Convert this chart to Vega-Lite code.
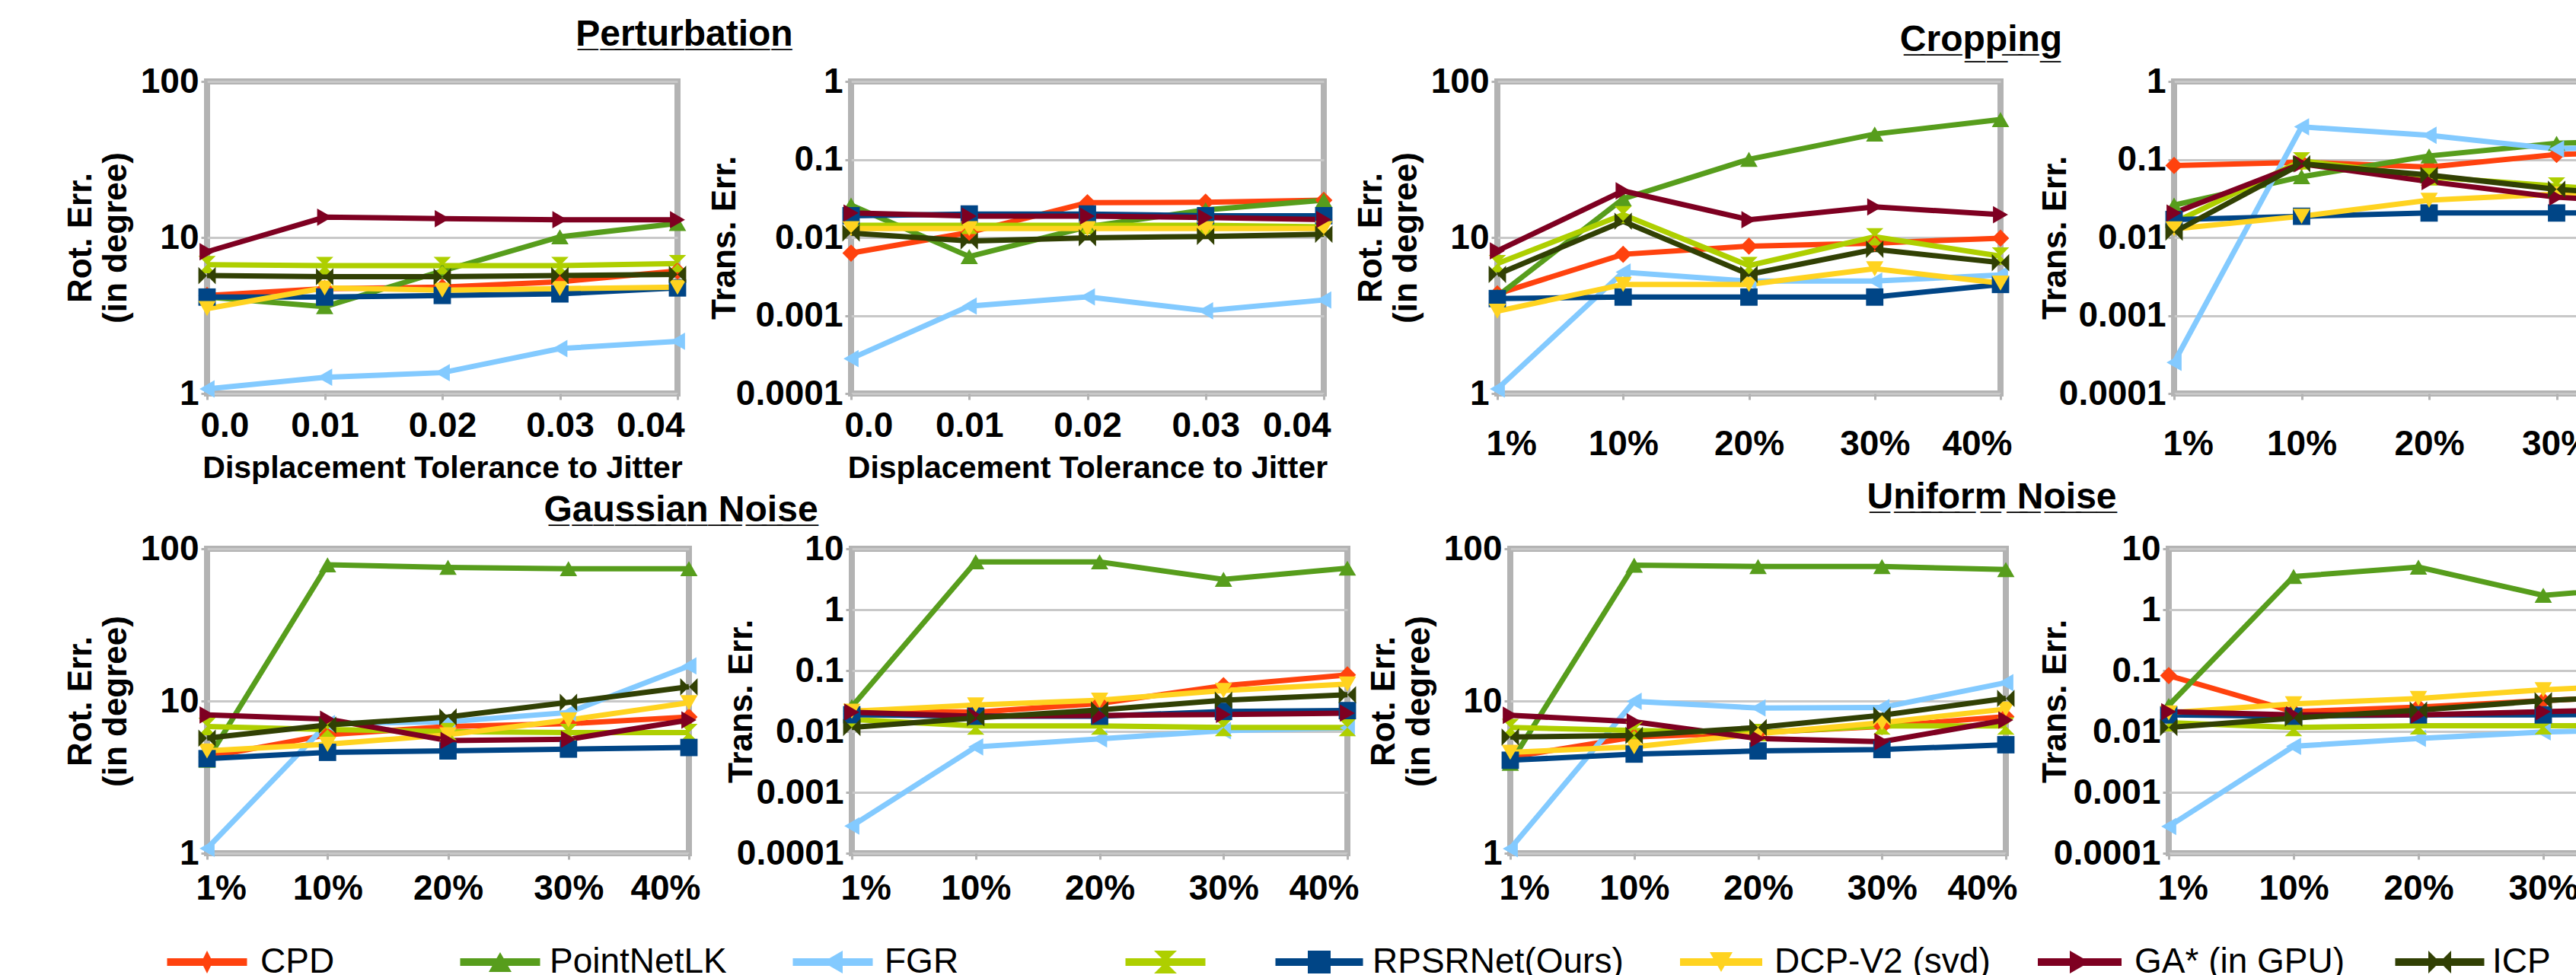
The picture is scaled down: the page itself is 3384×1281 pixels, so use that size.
{
  "$schema": "https://vega.github.io/schema/vega-lite/v6.json",
  "background": "white",
  "padding": {"left": 80, "top": 18, "right": 5, "bottom": 0},
  "config": {
    "view": {"stroke": "#b3b3b3", "strokeWidth": 8, "fill": "white"},
    "axis": {"labelFont": "Liberation Sans", "labelFontWeight": "bold", "labelFontSize": 46, "labelColor": "#000000", "titleFont": "Liberation Sans", "titleFontWeight": "bold", "titleFontSize": 44, "titleColor": "#000000", "tickColor": "#b3b3b3", "tickWidth": 3, "tickSize": 8, "domain": false, "labelOverlap": false, "labelFlush": false},
    "axisX": {"grid": false, "labelAngle": 0, "labelFlush": true, "labelFlushOffset": 15},
    "axisY": {"grid": true, "gridColor": "#c8c8c8", "gridWidth": 3, "labelPadding": 3},
    "title": {"font": "Liberation Sans", "fontWeight": "bold", "fontSize": 48, "color": "#000000", "anchor": "middle", "frame": "group"},
    "line": {"strokeWidth": 7},
    "point": {"filled": true, "size": 520, "opacity": 1}
  },
  "resolve": {"scale": {"shape": "independent"}},
  "datasets": {
    "pert": [
      {"method": "CPD", "level": "0.0", "rot": 4.25, "trans": 0.0063},
      {"method": "CPD", "level": "0.01", "rot": 4.7, "trans": 0.0116},
      {"method": "CPD", "level": "0.02", "rot": 4.8, "trans": 0.0279},
      {"method": "CPD", "level": "0.03", "rot": 5.2, "trans": 0.0283},
      {"method": "CPD", "level": "0.04", "rot": 6.1, "trans": 0.030},
      {"method": "PointNetLK", "level": "0.0", "rot": 4.15, "trans": 0.026},
      {"method": "PointNetLK", "level": "0.01", "rot": 3.6, "trans": 0.0057},
      {"method": "PointNetLK", "level": "0.02", "rot": 6.1, "trans": 0.0137},
      {"method": "PointNetLK", "level": "0.03", "rot": 10.1, "trans": 0.0226},
      {"method": "PointNetLK", "level": "0.04", "rot": 12.3, "trans": 0.030},
      {"method": "FGR", "level": "0.0", "rot": 1.07, "trans": 0.00028},
      {"method": "FGR", "level": "0.01", "rot": 1.27, "trans": 0.00132},
      {"method": "FGR", "level": "0.02", "rot": 1.36, "trans": 0.00173},
      {"method": "FGR", "level": "0.03", "rot": 1.94, "trans": 0.00115},
      {"method": "FGR", "level": "0.04", "rot": 2.16, "trans": 0.00158},
      {"method": "Unlabelled", "level": "0.0", "rot": 6.7, "trans": 0.0143},
      {"method": "Unlabelled", "level": "0.01", "rot": 6.6, "trans": 0.0143},
      {"method": "Unlabelled", "level": "0.02", "rot": 6.6, "trans": 0.0143},
      {"method": "Unlabelled", "level": "0.03", "rot": 6.6, "trans": 0.0143},
      {"method": "Unlabelled", "level": "0.04", "rot": 6.8, "trans": 0.0137},
      {"method": "RPSRNet(Ours)", "level": "0.0", "rot": 4.15, "trans": 0.019},
      {"method": "RPSRNet(Ours)", "level": "0.01", "rot": 4.15, "trans": 0.020},
      {"method": "RPSRNet(Ours)", "level": "0.02", "rot": 4.25, "trans": 0.020},
      {"method": "RPSRNet(Ours)", "level": "0.03", "rot": 4.35, "trans": 0.019},
      {"method": "RPSRNet(Ours)", "level": "0.04", "rot": 4.75, "trans": 0.019},
      {"method": "DCP-V2 (svd)", "level": "0.0", "rot": 3.5, "trans": 0.013},
      {"method": "DCP-V2 (svd)", "level": "0.01", "rot": 4.75, "trans": 0.013},
      {"method": "DCP-V2 (svd)", "level": "0.02", "rot": 4.6, "trans": 0.013},
      {"method": "DCP-V2 (svd)", "level": "0.03", "rot": 4.7, "trans": 0.013},
      {"method": "DCP-V2 (svd)", "level": "0.04", "rot": 4.8, "trans": 0.013},
      {"method": "GA* (in GPU)", "level": "0.0", "rot": 8.1, "trans": 0.0206},
      {"method": "GA* (in GPU)", "level": "0.01", "rot": 13.5, "trans": 0.0188},
      {"method": "GA* (in GPU)", "level": "0.02", "rot": 13.2, "trans": 0.0188},
      {"method": "GA* (in GPU)", "level": "0.03", "rot": 13.0, "trans": 0.018},
      {"method": "GA* (in GPU)", "level": "0.04", "rot": 13.0, "trans": 0.017},
      {"method": "ICP", "level": "0.0", "rot": 5.7, "trans": 0.0114},
      {"method": "ICP", "level": "0.01", "rot": 5.6, "trans": 0.009},
      {"method": "ICP", "level": "0.02", "rot": 5.6, "trans": 0.0099},
      {"method": "ICP", "level": "0.03", "rot": 5.7, "trans": 0.0103},
      {"method": "ICP", "level": "0.04", "rot": 5.8, "trans": 0.011}
    ],
    "crop": [
      {"method": "CPD", "level": "1%", "rot": 4.35, "trans": 0.0837},
      {"method": "CPD", "level": "10%", "rot": 7.8, "trans": 0.092},
      {"method": "CPD", "level": "20%", "rot": 8.8, "trans": 0.080},
      {"method": "CPD", "level": "30%", "rot": 9.2, "trans": 0.116},
      {"method": "CPD", "level": "40%", "rot": 9.9, "trans": 0.127},
      {"method": "PointNetLK", "level": "1%", "rot": 4.2, "trans": 0.026},
      {"method": "PointNetLK", "level": "10%", "rot": 17.7, "trans": 0.060},
      {"method": "PointNetLK", "level": "20%", "rot": 31.7, "trans": 0.111},
      {"method": "PointNetLK", "level": "30%", "rot": 46, "trans": 0.161},
      {"method": "PointNetLK", "level": "40%", "rot": 57, "trans": 0.18},
      {"method": "FGR", "level": "1%", "rot": 1.07, "trans": 0.00025},
      {"method": "FGR", "level": "10%", "rot": 6.0, "trans": 0.262},
      {"method": "FGR", "level": "20%", "rot": 5.25, "trans": 0.204},
      {"method": "FGR", "level": "30%", "rot": 5.25, "trans": 0.136},
      {"method": "FGR", "level": "40%", "rot": 5.75, "trans": 0.16},
      {"method": "Unlabelled", "level": "1%", "rot": 6.8, "trans": 0.0155},
      {"method": "Unlabelled", "level": "10%", "rot": 14.0, "trans": 0.096},
      {"method": "Unlabelled", "level": "20%", "rot": 6.6, "trans": 0.060},
      {"method": "Unlabelled", "level": "30%", "rot": 10.1, "trans": 0.0456},
      {"method": "Unlabelled", "level": "40%", "rot": 7.6, "trans": 0.035},
      {"method": "RPSRNet(Ours)", "level": "1%", "rot": 4.06, "trans": 0.017},
      {"method": "RPSRNet(Ours)", "level": "10%", "rot": 4.15, "trans": 0.0187},
      {"method": "RPSRNet(Ours)", "level": "20%", "rot": 4.15, "trans": 0.0206},
      {"method": "RPSRNet(Ours)", "level": "30%", "rot": 4.15, "trans": 0.0206},
      {"method": "RPSRNet(Ours)", "level": "40%", "rot": 5.0, "trans": 0.021},
      {"method": "DCP-V2 (svd)", "level": "1%", "rot": 3.37, "trans": 0.0129},
      {"method": "DCP-V2 (svd)", "level": "10%", "rot": 5.0, "trans": 0.0187},
      {"method": "DCP-V2 (svd)", "level": "20%", "rot": 5.0, "trans": 0.030},
      {"method": "DCP-V2 (svd)", "level": "30%", "rot": 6.3, "trans": 0.036},
      {"method": "DCP-V2 (svd)", "level": "40%", "rot": 5.1, "trans": 0.04},
      {"method": "GA* (in GPU)", "level": "1%", "rot": 8.2, "trans": 0.0206},
      {"method": "GA* (in GPU)", "level": "10%", "rot": 19.9, "trans": 0.088},
      {"method": "GA* (in GPU)", "level": "20%", "rot": 13.0, "trans": 0.052},
      {"method": "GA* (in GPU)", "level": "30%", "rot": 15.7, "trans": 0.0328},
      {"method": "GA* (in GPU)", "level": "40%", "rot": 14.0, "trans": 0.027},
      {"method": "ICP", "level": "1%", "rot": 5.8, "trans": 0.0117},
      {"method": "ICP", "level": "10%", "rot": 12.7, "trans": 0.088},
      {"method": "ICP", "level": "20%", "rot": 5.8, "trans": 0.063},
      {"method": "ICP", "level": "30%", "rot": 8.4, "trans": 0.0415},
      {"method": "ICP", "level": "40%", "rot": 6.9, "trans": 0.032}
    ],
    "gauss": [
      {"method": "CPD", "level": "1%", "rot": 4.28, "trans": 0.0218},
      {"method": "CPD", "level": "10%", "rot": 6.0, "trans": 0.0207},
      {"method": "CPD", "level": "20%", "rot": 6.8, "trans": 0.0288},
      {"method": "CPD", "level": "30%", "rot": 7.1, "trans": 0.0564},
      {"method": "CPD", "level": "40%", "rot": 7.85, "trans": 0.085},
      {"method": "PointNetLK", "level": "1%", "rot": 4.08, "trans": 0.0255},
      {"method": "PointNetLK", "level": "10%", "rot": 78.5, "trans": 6.1},
      {"method": "PointNetLK", "level": "20%", "rot": 75.5, "trans": 6.1},
      {"method": "PointNetLK", "level": "30%", "rot": 74, "trans": 3.14},
      {"method": "PointNetLK", "level": "40%", "rot": 74, "trans": 4.8},
      {"method": "FGR", "level": "1%", "rot": 1.075, "trans": 0.00028},
      {"method": "FGR", "level": "10%", "rot": 7.1, "trans": 0.00557},
      {"method": "FGR", "level": "20%", "rot": 7.3, "trans": 0.00755},
      {"method": "FGR", "level": "30%", "rot": 8.4, "trans": 0.0103},
      {"method": "FGR", "level": "40%", "rot": 17.0, "trans": 0.0115},
      {"method": "Unlabelled", "level": "1%", "rot": 6.8, "trans": 0.0157},
      {"method": "Unlabelled", "level": "10%", "rot": 6.5, "trans": 0.0123},
      {"method": "Unlabelled", "level": "20%", "rot": 6.3, "trans": 0.0123},
      {"method": "Unlabelled", "level": "30%", "rot": 6.2, "trans": 0.0116},
      {"method": "Unlabelled", "level": "40%", "rot": 6.2, "trans": 0.0116},
      {"method": "RPSRNet(Ours)", "level": "1%", "rot": 4.18, "trans": 0.0188},
      {"method": "RPSRNet(Ours)", "level": "10%", "rot": 4.6, "trans": 0.0178},
      {"method": "RPSRNet(Ours)", "level": "20%", "rot": 4.7, "trans": 0.0178},
      {"method": "RPSRNet(Ours)", "level": "30%", "rot": 4.83, "trans": 0.0213},
      {"method": "RPSRNet(Ours)", "level": "40%", "rot": 4.95, "trans": 0.022},
      {"method": "DCP-V2 (svd)", "level": "1%", "rot": 4.7, "trans": 0.0215},
      {"method": "DCP-V2 (svd)", "level": "10%", "rot": 5.2, "trans": 0.0272},
      {"method": "DCP-V2 (svd)", "level": "20%", "rot": 6.0, "trans": 0.0326},
      {"method": "DCP-V2 (svd)", "level": "30%", "rot": 7.5, "trans": 0.047},
      {"method": "DCP-V2 (svd)", "level": "40%", "rot": 9.75, "trans": 0.06},
      {"method": "GA* (in GPU)", "level": "1%", "rot": 8.1, "trans": 0.0207},
      {"method": "GA* (in GPU)", "level": "10%", "rot": 7.6, "trans": 0.0178},
      {"method": "GA* (in GPU)", "level": "20%", "rot": 5.5, "trans": 0.0183},
      {"method": "GA* (in GPU)", "level": "30%", "rot": 5.6, "trans": 0.019},
      {"method": "GA* (in GPU)", "level": "40%", "rot": 7.5, "trans": 0.02},
      {"method": "ICP", "level": "1%", "rot": 5.7, "trans": 0.0116},
      {"method": "ICP", "level": "10%", "rot": 6.95, "trans": 0.0167},
      {"method": "ICP", "level": "20%", "rot": 7.85, "trans": 0.0226},
      {"method": "ICP", "level": "30%", "rot": 9.8, "trans": 0.0326},
      {"method": "ICP", "level": "40%", "rot": 12.4, "trans": 0.04}
    ],
    "unif": [
      {"method": "CPD", "level": "1%", "rot": 4.28, "trans": 0.0828},
      {"method": "CPD", "level": "10%", "rot": 5.8, "trans": 0.0211},
      {"method": "CPD", "level": "20%", "rot": 6.2, "trans": 0.0252},
      {"method": "CPD", "level": "30%", "rot": 6.8, "trans": 0.032},
      {"method": "CPD", "level": "40%", "rot": 7.9, "trans": 0.04},
      {"method": "PointNetLK", "level": "1%", "rot": 3.9, "trans": 0.0268},
      {"method": "PointNetLK", "level": "10%", "rot": 78, "trans": 3.5},
      {"method": "PointNetLK", "level": "20%", "rot": 76.5, "trans": 5.0},
      {"method": "PointNetLK", "level": "30%", "rot": 76.5, "trans": 1.72},
      {"method": "PointNetLK", "level": "40%", "rot": 73, "trans": 2.5},
      {"method": "FGR", "level": "1%", "rot": 1.07, "trans": 0.000275},
      {"method": "FGR", "level": "10%", "rot": 9.95, "trans": 0.0057},
      {"method": "FGR", "level": "20%", "rot": 9.0, "trans": 0.00767},
      {"method": "FGR", "level": "30%", "rot": 9.06, "trans": 0.0098},
      {"method": "FGR", "level": "40%", "rot": 13.2, "trans": 0.011},
      {"method": "Unlabelled", "level": "1%", "rot": 6.7, "trans": 0.0139},
      {"method": "Unlabelled", "level": "10%", "rot": 6.4, "trans": 0.0116},
      {"method": "Unlabelled", "level": "20%", "rot": 6.2, "trans": 0.0124},
      {"method": "Unlabelled", "level": "30%", "rot": 6.85, "trans": 0.0124},
      {"method": "Unlabelled", "level": "40%", "rot": 6.85, "trans": 0.0124},
      {"method": "RPSRNet(Ours)", "level": "1%", "rot": 4.08, "trans": 0.0187},
      {"method": "RPSRNet(Ours)", "level": "10%", "rot": 4.48, "trans": 0.0178},
      {"method": "RPSRNet(Ours)", "level": "20%", "rot": 4.7, "trans": 0.0187},
      {"method": "RPSRNet(Ours)", "level": "30%", "rot": 4.8, "trans": 0.0187},
      {"method": "RPSRNet(Ours)", "level": "40%", "rot": 5.16, "trans": 0.019},
      {"method": "DCP-V2 (svd)", "level": "1%", "rot": 4.6, "trans": 0.0202},
      {"method": "DCP-V2 (svd)", "level": "10%", "rot": 5.0, "trans": 0.0284},
      {"method": "DCP-V2 (svd)", "level": "20%", "rot": 6.1, "trans": 0.0348},
      {"method": "DCP-V2 (svd)", "level": "30%", "rot": 7.2, "trans": 0.0485},
      {"method": "DCP-V2 (svd)", "level": "40%", "rot": 8.85, "trans": 0.06},
      {"method": "GA* (in GPU)", "level": "1%", "rot": 8.06, "trans": 0.0211},
      {"method": "GA* (in GPU)", "level": "10%", "rot": 7.3, "trans": 0.0187},
      {"method": "GA* (in GPU)", "level": "20%", "rot": 5.67, "trans": 0.0187},
      {"method": "GA* (in GPU)", "level": "30%", "rot": 5.4, "trans": 0.0211},
      {"method": "GA* (in GPU)", "level": "40%", "rot": 7.5, "trans": 0.024},
      {"method": "ICP", "level": "1%", "rot": 5.8, "trans": 0.0116},
      {"method": "ICP", "level": "10%", "rot": 5.94, "trans": 0.0166},
      {"method": "ICP", "level": "20%", "rot": 6.7, "trans": 0.0224},
      {"method": "ICP", "level": "30%", "rot": 8.06, "trans": 0.032},
      {"method": "ICP", "level": "40%", "rot": 10.4, "trans": 0.04}
    ],
    "legend": [
      {"method": "CPD", "label": "CPD"},
      {"method": "PointNetLK", "label": "PointNetLK"},
      {"method": "FGR", "label": "FGR"},
      {"method": "Unlabelled", "label": ""},
      {"method": "RPSRNet(Ours)", "label": "RPSRNet(Ours)"},
      {"method": "DCP-V2 (svd)", "label": "DCP-V2 (svd)"},
      {"method": "GA* (in GPU)", "label": "GA* (in GPU)"},
      {"method": "ICP", "label": "ICP"}
    ]
  },
  "vconcat": [
    {
      "vconcat": [
        {
          "hconcat": [
            {
              "width": 618, "height": 410,
              "title": {"text": "P\u0332e\u0332r\u0332t\u0332u\u0332r\u0332b\u0332a\u0332t\u0332i\u0332o\u0332n\u0332", "dx": 318, "offset": 14},
              "data": {"name": "pert"},
              "encoding": {
                "x": {"field": "level", "type": "ordinal", "sort": ["0.0", "0.01", "0.02", "0.03", "0.04"], "scale": {"type": "point", "domain": ["0.0", "0.01", "0.02", "0.03", "0.04"], "padding": 0}, "axis": {"title": "Displacement Tolerance to Jitter", "labelPadding": 12, "labelFlushOffset": 9, "titlePadding": 13, "titleFontSize": 41}},
                "y": {"field": "rot", "type": "quantitative", "scale": {"type": "log", "domain": [1, 100], "nice": false}, "axis": {"title": ["Rot.  Err.", "(in degree)"], "values": [1, 10, 100], "format": "~g", "titlePadding": 10}},
                "color": {"field": "method", "type": "nominal", "scale": {"domain": ["CPD", "PointNetLK", "FGR", "Unlabelled", "RPSRNet(Ours)", "DCP-V2 (svd)", "GA* (in GPU)", "ICP"], "range": ["#ff420e", "#579d1c", "#83caff", "#aecf00", "#004586", "#ffd320", "#7e0021", "#314004"]}, "legend": null}
              },
              "layer": [
                {"mark": {"type": "line"}},
                {"mark": {"type": "point"}, "encoding": {"shape": {"field": "method", "type": "nominal", "scale": {"domain": ["CPD", "PointNetLK", "FGR", "Unlabelled", "RPSRNet(Ours)", "DCP-V2 (svd)", "GA* (in GPU)", "ICP"], "range": ["diamond", "triangle-up", "triangle-left", "M-1,-1L1,-1L-1,1L1,1Z", "square", "triangle-down", "triangle-right", "M-1,-1L1,1L1,-1L-1,1Z"]}, "legend": null}}}
              ]
            },
            {
              "width": 621, "height": 410,
              "data": {"name": "pert"},
              "encoding": {
                "x": {"field": "level", "type": "ordinal", "sort": ["0.0", "0.01", "0.02", "0.03", "0.04"], "scale": {"type": "point", "domain": ["0.0", "0.01", "0.02", "0.03", "0.04"], "padding": 0}, "axis": {"title": "Displacement Tolerance to Jitter", "labelPadding": 12, "labelFlushOffset": 9, "titlePadding": 13, "titleFontSize": 41}},
                "y": {"field": "trans", "type": "quantitative", "scale": {"type": "log", "domain": [0.0001, 1], "nice": false}, "axis": {"title": "Trans. Err.", "values": [0.0001, 0.001, 0.01, 0.1, 1], "format": "~g", "titlePadding": -8}},
                "color": {"field": "method", "type": "nominal", "scale": {"domain": ["CPD", "PointNetLK", "FGR", "Unlabelled", "RPSRNet(Ours)", "DCP-V2 (svd)", "GA* (in GPU)", "ICP"], "range": ["#ff420e", "#579d1c", "#83caff", "#aecf00", "#004586", "#ffd320", "#7e0021", "#314004"]}, "legend": null}
              },
              "layer": [
                {"mark": {"type": "line"}},
                {"mark": {"type": "point"}, "encoding": {"shape": {"field": "method", "type": "nominal", "scale": {"domain": ["CPD", "PointNetLK", "FGR", "Unlabelled", "RPSRNet(Ours)", "DCP-V2 (svd)", "GA* (in GPU)", "ICP"], "range": ["diamond", "triangle-up", "triangle-left", "M-1,-1L1,-1L-1,1L1,1Z", "square", "triangle-down", "triangle-right", "M-1,-1L1,1L1,-1L-1,1Z"]}, "legend": null}}}
              ]
            },
            {
              "width": 661, "height": 410,
              "title": {"text": "C\u0332r\u0332o\u0332p\u0332p\u0332i\u0332n\u0332g\u0332", "dx": 305, "offset": 7},
              "data": {"name": "crop"},
              "encoding": {
                "x": {"field": "level", "type": "ordinal", "sort": ["1%", "10%", "20%", "30%", "40%"], "scale": {"type": "point", "domain": ["1%", "10%", "20%", "30%", "40%"], "padding": 0}, "axis": {"title": null, "labelPadding": 36}},
                "y": {"field": "rot", "type": "quantitative", "scale": {"type": "log", "domain": [1, 100], "nice": false}, "axis": {"title": ["Rot.  Err.", "(in degree)"], "values": [1, 10, 100], "format": "~g", "titlePadding": 10}},
                "color": {"field": "method", "type": "nominal", "scale": {"domain": ["CPD", "PointNetLK", "FGR", "Unlabelled", "RPSRNet(Ours)", "DCP-V2 (svd)", "GA* (in GPU)", "ICP"], "range": ["#ff420e", "#579d1c", "#83caff", "#aecf00", "#004586", "#ffd320", "#7e0021", "#314004"]}, "legend": null}
              },
              "layer": [
                {"mark": {"type": "line"}},
                {"mark": {"type": "point"}, "encoding": {"shape": {"field": "method", "type": "nominal", "scale": {"domain": ["CPD", "PointNetLK", "FGR", "Unlabelled", "RPSRNet(Ours)", "DCP-V2 (svd)", "GA* (in GPU)", "ICP"], "range": ["diamond", "triangle-up", "triangle-left", "M-1,-1L1,-1L-1,1L1,1Z", "square", "triangle-down", "triangle-right", "M-1,-1L1,1L1,-1L-1,1Z"]}, "legend": null}}}
              ]
            },
            {
              "width": 670, "height": 410,
              "data": {"name": "crop"},
              "encoding": {
                "x": {"field": "level", "type": "ordinal", "sort": ["1%", "10%", "20%", "30%", "40%"], "scale": {"type": "point", "domain": ["1%", "10%", "20%", "30%", "40%"], "padding": 0}, "axis": {"title": null, "labelPadding": 36}},
                "y": {"field": "trans", "type": "quantitative", "scale": {"type": "log", "domain": [0.0001, 1], "nice": false}, "axis": {"title": "Trans. Err.", "values": [0.0001, 0.001, 0.01, 0.1, 1], "format": "~g", "titlePadding": -18}},
                "color": {"field": "method", "type": "nominal", "scale": {"domain": ["CPD", "PointNetLK", "FGR", "Unlabelled", "RPSRNet(Ours)", "DCP-V2 (svd)", "GA* (in GPU)", "ICP"], "range": ["#ff420e", "#579d1c", "#83caff", "#aecf00", "#004586", "#ffd320", "#7e0021", "#314004"]}, "legend": null}
              },
              "layer": [
                {"mark": {"type": "line"}},
                {"mark": {"type": "point"}, "encoding": {"shape": {"field": "method", "type": "nominal", "scale": {"domain": ["CPD", "PointNetLK", "FGR", "Unlabelled", "RPSRNet(Ours)", "DCP-V2 (svd)", "GA* (in GPU)", "ICP"], "range": ["diamond", "triangle-up", "triangle-left", "M-1,-1L1,-1L-1,1L1,1Z", "square", "triangle-down", "triangle-right", "M-1,-1L1,1L1,-1L-1,1Z"]}, "legend": null}}}
              ]
            }
          ],
          "bounds": "flush",
          "spacing": 228
        },
        {
          "hconcat": [
            {
              "width": 633, "height": 400,
              "title": {"text": "G\u0332a\u0332u\u0332s\u0332s\u0332i\u0332a\u0332n\u0332 \u0332N\u0332o\u0332i\u0332s\u0332e\u0332", "dx": 306, "offset": 3},
              "data": {"name": "gauss"},
              "encoding": {
                "x": {"field": "level", "type": "ordinal", "sort": ["1%", "10%", "20%", "30%", "40%"], "scale": {"type": "point", "domain": ["1%", "10%", "20%", "30%", "40%"], "padding": 0}, "axis": {"title": null, "labelPadding": 16}},
                "y": {"field": "rot", "type": "quantitative", "scale": {"type": "log", "domain": [1, 100], "nice": false}, "axis": {"title": ["Rot.  Err.", "(in degree)"], "values": [1, 10, 100], "format": "~g", "titlePadding": 10}},
                "color": {"field": "method", "type": "nominal", "scale": {"domain": ["CPD", "PointNetLK", "FGR", "Unlabelled", "RPSRNet(Ours)", "DCP-V2 (svd)", "GA* (in GPU)", "ICP"], "range": ["#ff420e", "#579d1c", "#83caff", "#aecf00", "#004586", "#ffd320", "#7e0021", "#314004"]}, "legend": null}
              },
              "layer": [
                {"mark": {"type": "line"}},
                {"mark": {"type": "point"}, "encoding": {"shape": {"field": "method", "type": "nominal", "scale": {"domain": ["CPD", "PointNetLK", "FGR", "Unlabelled", "RPSRNet(Ours)", "DCP-V2 (svd)", "GA* (in GPU)", "ICP"], "range": ["diamond", "triangle-up", "triangle-left", "M-1,-1L1,-1L-1,1L1,1Z", "square", "triangle-down", "triangle-right", "M-1,-1L1,1L1,-1L-1,1Z"]}, "legend": null}}}
              ]
            },
            {
              "width": 651, "height": 400,
              "data": {"name": "gauss"},
              "encoding": {
                "x": {"field": "level", "type": "ordinal", "sort": ["1%", "10%", "20%", "30%", "40%"], "scale": {"type": "point", "domain": ["1%", "10%", "20%", "30%", "40%"], "padding": 0}, "axis": {"title": null, "labelPadding": 16}},
                "y": {"field": "trans", "type": "quantitative", "scale": {"type": "log", "domain": [0.0001, 10], "nice": false}, "axis": {"title": "Trans. Err.", "values": [0.0001, 0.001, 0.01, 0.1, 1, 10], "format": "~g", "titlePadding": -29}},
                "color": {"field": "method", "type": "nominal", "scale": {"domain": ["CPD", "PointNetLK", "FGR", "Unlabelled", "RPSRNet(Ours)", "DCP-V2 (svd)", "GA* (in GPU)", "ICP"], "range": ["#ff420e", "#579d1c", "#83caff", "#aecf00", "#004586", "#ffd320", "#7e0021", "#314004"]}, "legend": null}
              },
              "layer": [
                {"mark": {"type": "line"}},
                {"mark": {"type": "point"}, "encoding": {"shape": {"field": "method", "type": "nominal", "scale": {"domain": ["CPD", "PointNetLK", "FGR", "Unlabelled", "RPSRNet(Ours)", "DCP-V2 (svd)", "GA* (in GPU)", "ICP"], "range": ["diamond", "triangle-up", "triangle-left", "M-1,-1L1,-1L-1,1L1,1Z", "square", "triangle-down", "triangle-right", "M-1,-1L1,1L1,-1L-1,1Z"]}, "legend": null}}}
              ]
            },
            {
              "width": 651, "height": 400,
              "title": {"text": "U\u0332n\u0332i\u0332f\u0332o\u0332r\u0332m\u0332 \u0332N\u0332o\u0332i\u0332s\u0332e\u0332", "dx": 307, "offset": 20},
              "data": {"name": "unif"},
              "encoding": {
                "x": {"field": "level", "type": "ordinal", "sort": ["1%", "10%", "20%", "30%", "40%"], "scale": {"type": "point", "domain": ["1%", "10%", "20%", "30%", "40%"], "padding": 0}, "axis": {"title": null, "labelPadding": 16}},
                "y": {"field": "rot", "type": "quantitative", "scale": {"type": "log", "domain": [1, 100], "nice": false}, "axis": {"title": ["Rot.  Err.", "(in degree)"], "values": [1, 10, 100], "format": "~g", "titlePadding": 10}},
                "color": {"field": "method", "type": "nominal", "scale": {"domain": ["CPD", "PointNetLK", "FGR", "Unlabelled", "RPSRNet(Ours)", "DCP-V2 (svd)", "GA* (in GPU)", "ICP"], "range": ["#ff420e", "#579d1c", "#83caff", "#aecf00", "#004586", "#ffd320", "#7e0021", "#314004"]}, "legend": null}
              },
              "layer": [
                {"mark": {"type": "line"}},
                {"mark": {"type": "point"}, "encoding": {"shape": {"field": "method", "type": "nominal", "scale": {"domain": ["CPD", "PointNetLK", "FGR", "Unlabelled", "RPSRNet(Ours)", "DCP-V2 (svd)", "GA* (in GPU)", "ICP"], "range": ["diamond", "triangle-up", "triangle-left", "M-1,-1L1,-1L-1,1L1,1Z", "square", "triangle-down", "triangle-right", "M-1,-1L1,1L1,-1L-1,1Z"]}, "legend": null}}}
              ]
            },
            {
              "width": 656, "height": 400,
              "data": {"name": "unif"},
              "encoding": {
                "x": {"field": "level", "type": "ordinal", "sort": ["1%", "10%", "20%", "30%", "40%"], "scale": {"type": "point", "domain": ["1%", "10%", "20%", "30%", "40%"], "padding": 0}, "axis": {"title": null, "labelPadding": 16}},
                "y": {"field": "trans", "type": "quantitative", "scale": {"type": "log", "domain": [0.0001, 10], "nice": false}, "axis": {"title": "Trans. Err.", "values": [0.0001, 0.001, 0.01, 0.1, 1, 10], "format": "~g", "titlePadding": -25}},
                "color": {"field": "method", "type": "nominal", "scale": {"domain": ["CPD", "PointNetLK", "FGR", "Unlabelled", "RPSRNet(Ours)", "DCP-V2 (svd)", "GA* (in GPU)", "ICP"], "range": ["#ff420e", "#579d1c", "#83caff", "#aecf00", "#004586", "#ffd320", "#7e0021", "#314004"]}, "legend": null}
              },
              "layer": [
                {"mark": {"type": "line"}},
                {"mark": {"type": "point"}, "encoding": {"shape": {"field": "method", "type": "nominal", "scale": {"domain": ["CPD", "PointNetLK", "FGR", "Unlabelled", "RPSRNet(Ours)", "DCP-V2 (svd)", "GA* (in GPU)", "ICP"], "range": ["diamond", "triangle-up", "triangle-left", "M-1,-1L1,-1L-1,1L1,1Z", "square", "triangle-down", "triangle-right", "M-1,-1L1,1L1,-1L-1,1Z"]}, "legend": null}}}
              ]
            }
          ],
          "bounds": "flush",
          "spacing": 214
        }
      ],
      "spacing": -13
    },
    {
      "hconcat": [
        {"width": 385, "height": 60, "view": {"stroke": null, "fill": null}, "data": {"name": "legend"}, "transform": [{"filter": {"field": "method", "equal": "CPD"}}],
         "encoding": {"x": {"field": "method", "type": "nominal", "scale": {"type": "point", "domain": ["CPD"], "padding": 0, "align": 0}, "axis": null}, "color": {"field": "method", "type": "nominal", "scale": {"domain": ["CPD", "PointNetLK", "FGR", "Unlabelled", "RPSRNet(Ours)", "DCP-V2 (svd)", "GA* (in GPU)", "ICP"], "range": ["#ff420e", "#579d1c", "#83caff", "#aecf00", "#004586", "#ffd320", "#7e0021", "#314004"]}, "legend": null}},
         "layer": [
           {"mark": {"type": "tick", "orient": "horizontal", "size": 105, "thickness": 10, "opacity": 1}},
           {"mark": {"type": "point", "size": 900, "filled": true, "opacity": 1}, "encoding": {"shape": {"field": "method", "type": "nominal", "scale": {"domain": ["CPD", "PointNetLK", "FGR", "Unlabelled", "RPSRNet(Ours)", "DCP-V2 (svd)", "GA* (in GPU)", "ICP"], "range": ["M0,-1L0.5,0L0,1L-0.5,0Z", "triangle-up", "triangle-left", "M-1,-1L1,-1L-1,1L1,1Z", "square", "triangle-down", "triangle-right", "M-1,-1L1,1L1,-1L-1,1Z"]}, "legend": null}}},
           {"mark": {"type": "text", "align": "left", "baseline": "middle", "dx": 70, "font": "Liberation Sans", "fontSize": 46}, "encoding": {"text": {"field": "label"}, "color": {"value": "#000000"}}}
         ]},
        {"width": 437, "height": 60, "view": {"stroke": null, "fill": null}, "data": {"name": "legend"}, "transform": [{"filter": {"field": "method", "equal": "PointNetLK"}}],
         "encoding": {"x": {"field": "method", "type": "nominal", "scale": {"type": "point", "domain": ["PointNetLK"], "padding": 0, "align": 0}, "axis": null}, "color": {"field": "method", "type": "nominal", "scale": {"domain": ["CPD", "PointNetLK", "FGR", "Unlabelled", "RPSRNet(Ours)", "DCP-V2 (svd)", "GA* (in GPU)", "ICP"], "range": ["#ff420e", "#579d1c", "#83caff", "#aecf00", "#004586", "#ffd320", "#7e0021", "#314004"]}, "legend": null}},
         "layer": [
           {"mark": {"type": "tick", "orient": "horizontal", "size": 105, "thickness": 10, "opacity": 1}},
           {"mark": {"type": "point", "size": 900, "filled": true, "opacity": 1}, "encoding": {"shape": {"field": "method", "type": "nominal", "scale": {"domain": ["CPD", "PointNetLK", "FGR", "Unlabelled", "RPSRNet(Ours)", "DCP-V2 (svd)", "GA* (in GPU)", "ICP"], "range": ["M0,-1L0.5,0L0,1L-0.5,0Z", "triangle-up", "triangle-left", "M-1,-1L1,-1L-1,1L1,1Z", "square", "triangle-down", "triangle-right", "M-1,-1L1,1L1,-1L-1,1Z"]}, "legend": null}}},
           {"mark": {"type": "text", "align": "left", "baseline": "middle", "dx": 65, "font": "Liberation Sans", "fontSize": 46}, "encoding": {"text": {"field": "label"}, "color": {"value": "#000000"}}}
         ]},
        {"width": 437, "height": 60, "view": {"stroke": null, "fill": null}, "data": {"name": "legend"}, "transform": [{"filter": {"field": "method", "equal": "FGR"}}],
         "encoding": {"x": {"field": "method", "type": "nominal", "scale": {"type": "point", "domain": ["FGR"], "padding": 0, "align": 0}, "axis": null}, "color": {"field": "method", "type": "nominal", "scale": {"domain": ["CPD", "PointNetLK", "FGR", "Unlabelled", "RPSRNet(Ours)", "DCP-V2 (svd)", "GA* (in GPU)", "ICP"], "range": ["#ff420e", "#579d1c", "#83caff", "#aecf00", "#004586", "#ffd320", "#7e0021", "#314004"]}, "legend": null}},
         "layer": [
           {"mark": {"type": "tick", "orient": "horizontal", "size": 105, "thickness": 10, "opacity": 1}},
           {"mark": {"type": "point", "size": 900, "filled": true, "opacity": 1}, "encoding": {"shape": {"field": "method", "type": "nominal", "scale": {"domain": ["CPD", "PointNetLK", "FGR", "Unlabelled", "RPSRNet(Ours)", "DCP-V2 (svd)", "GA* (in GPU)", "ICP"], "range": ["M0,-1L0.5,0L0,1L-0.5,0Z", "triangle-up", "triangle-left", "M-1,-1L1,-1L-1,1L1,1Z", "square", "triangle-down", "triangle-right", "M-1,-1L1,1L1,-1L-1,1Z"]}, "legend": null}}},
           {"mark": {"type": "text", "align": "left", "baseline": "middle", "dx": 68, "font": "Liberation Sans", "fontSize": 46}, "encoding": {"text": {"field": "label"}, "color": {"value": "#000000"}}}
         ]},
        {"width": 202, "height": 60, "view": {"stroke": null, "fill": null}, "data": {"name": "legend"}, "transform": [{"filter": {"field": "method", "equal": "Unlabelled"}}],
         "encoding": {"x": {"field": "method", "type": "nominal", "scale": {"type": "point", "domain": ["Unlabelled"], "padding": 0, "align": 0}, "axis": null}, "color": {"field": "method", "type": "nominal", "scale": {"domain": ["CPD", "PointNetLK", "FGR", "Unlabelled", "RPSRNet(Ours)", "DCP-V2 (svd)", "GA* (in GPU)", "ICP"], "range": ["#ff420e", "#579d1c", "#83caff", "#aecf00", "#004586", "#ffd320", "#7e0021", "#314004"]}, "legend": null}},
         "layer": [
           {"mark": {"type": "tick", "orient": "horizontal", "size": 105, "thickness": 10, "opacity": 1}},
           {"mark": {"type": "point", "size": 900, "filled": true, "opacity": 1}, "encoding": {"shape": {"field": "method", "type": "nominal", "scale": {"domain": ["CPD", "PointNetLK", "FGR", "Unlabelled", "RPSRNet(Ours)", "DCP-V2 (svd)", "GA* (in GPU)", "ICP"], "range": ["M0,-1L0.5,0L0,1L-0.5,0Z", "triangle-up", "triangle-left", "M-1,-1L1,-1L-1,1L1,1Z", "square", "triangle-down", "triangle-right", "M-1,-1L1,1L1,-1L-1,1Z"]}, "legend": null}}}
         ]},
        {"width": 528, "height": 60, "view": {"stroke": null, "fill": null}, "data": {"name": "legend"}, "transform": [{"filter": {"field": "method", "equal": "RPSRNet(Ours)"}}],
         "encoding": {"x": {"field": "method", "type": "nominal", "scale": {"type": "point", "domain": ["RPSRNet(Ours)"], "padding": 0, "align": 0}, "axis": null}, "color": {"field": "method", "type": "nominal", "scale": {"domain": ["CPD", "PointNetLK", "FGR", "Unlabelled", "RPSRNet(Ours)", "DCP-V2 (svd)", "GA* (in GPU)", "ICP"], "range": ["#ff420e", "#579d1c", "#83caff", "#aecf00", "#004586", "#ffd320", "#7e0021", "#314004"]}, "legend": null}},
         "layer": [
           {"mark": {"type": "tick", "orient": "horizontal", "size": 115, "thickness": 10, "opacity": 1}},
           {"mark": {"type": "point", "size": 900, "filled": true, "opacity": 1}, "encoding": {"shape": {"field": "method", "type": "nominal", "scale": {"domain": ["CPD", "PointNetLK", "FGR", "Unlabelled", "RPSRNet(Ours)", "DCP-V2 (svd)", "GA* (in GPU)", "ICP"], "range": ["M0,-1L0.5,0L0,1L-0.5,0Z", "triangle-up", "triangle-left", "M-1,-1L1,-1L-1,1L1,1Z", "square", "triangle-down", "triangle-right", "M-1,-1L1,1L1,-1L-1,1Z"]}, "legend": null}}},
           {"mark": {"type": "text", "align": "left", "baseline": "middle", "dx": 70, "font": "Liberation Sans", "fontSize": 46}, "encoding": {"text": {"field": "label"}, "color": {"value": "#000000"}}}
         ]},
        {"width": 471, "height": 60, "view": {"stroke": null, "fill": null}, "data": {"name": "legend"}, "transform": [{"filter": {"field": "method", "equal": "DCP-V2 (svd)"}}],
         "encoding": {"x": {"field": "method", "type": "nominal", "scale": {"type": "point", "domain": ["DCP-V2 (svd)"], "padding": 0, "align": 0}, "axis": null}, "color": {"field": "method", "type": "nominal", "scale": {"domain": ["CPD", "PointNetLK", "FGR", "Unlabelled", "RPSRNet(Ours)", "DCP-V2 (svd)", "GA* (in GPU)", "ICP"], "range": ["#ff420e", "#579d1c", "#83caff", "#aecf00", "#004586", "#ffd320", "#7e0021", "#314004"]}, "legend": null}},
         "layer": [
           {"mark": {"type": "tick", "orient": "horizontal", "size": 108, "thickness": 10, "opacity": 1}},
           {"mark": {"type": "point", "size": 900, "filled": true, "opacity": 1}, "encoding": {"shape": {"field": "method", "type": "nominal", "scale": {"domain": ["CPD", "PointNetLK", "FGR", "Unlabelled", "RPSRNet(Ours)", "DCP-V2 (svd)", "GA* (in GPU)", "ICP"], "range": ["M0,-1L0.5,0L0,1L-0.5,0Z", "triangle-up", "triangle-left", "M-1,-1L1,-1L-1,1L1,1Z", "square", "triangle-down", "triangle-right", "M-1,-1L1,1L1,-1L-1,1Z"]}, "legend": null}}},
           {"mark": {"type": "text", "align": "left", "baseline": "middle", "dx": 70, "font": "Liberation Sans", "fontSize": 46}, "encoding": {"text": {"field": "label"}, "color": {"value": "#000000"}}}
         ]},
        {"width": 473, "height": 60, "view": {"stroke": null, "fill": null}, "data": {"name": "legend"}, "transform": [{"filter": {"field": "method", "equal": "GA* (in GPU)"}}],
         "encoding": {"x": {"field": "method", "type": "nominal", "scale": {"type": "point", "domain": ["GA* (in GPU)"], "padding": 0, "align": 0}, "axis": null}, "color": {"field": "method", "type": "nominal", "scale": {"domain": ["CPD", "PointNetLK", "FGR", "Unlabelled", "RPSRNet(Ours)", "DCP-V2 (svd)", "GA* (in GPU)", "ICP"], "range": ["#ff420e", "#579d1c", "#83caff", "#aecf00", "#004586", "#ffd320", "#7e0021", "#314004"]}, "legend": null}},
         "layer": [
           {"mark": {"type": "tick", "orient": "horizontal", "size": 110, "thickness": 10, "opacity": 1}},
           {"mark": {"type": "point", "size": 900, "filled": true, "opacity": 1}, "encoding": {"shape": {"field": "method", "type": "nominal", "scale": {"domain": ["CPD", "PointNetLK", "FGR", "Unlabelled", "RPSRNet(Ours)", "DCP-V2 (svd)", "GA* (in GPU)", "ICP"], "range": ["M0,-1L0.5,0L0,1L-0.5,0Z", "triangle-up", "triangle-left", "M-1,-1L1,-1L-1,1L1,1Z", "square", "triangle-down", "triangle-right", "M-1,-1L1,1L1,-1L-1,1Z"]}, "legend": null}}},
           {"mark": {"type": "text", "align": "left", "baseline": "middle", "dx": 72, "font": "Liberation Sans", "fontSize": 46}, "encoding": {"text": {"field": "label"}, "color": {"value": "#000000"}}}
         ]},
        {"width": 180, "height": 60, "view": {"stroke": null, "fill": null}, "data": {"name": "legend"}, "transform": [{"filter": {"field": "method", "equal": "ICP"}}],
         "encoding": {"x": {"field": "method", "type": "nominal", "scale": {"type": "point", "domain": ["ICP"], "padding": 0, "align": 0}, "axis": null}, "color": {"field": "method", "type": "nominal", "scale": {"domain": ["CPD", "PointNetLK", "FGR", "Unlabelled", "RPSRNet(Ours)", "DCP-V2 (svd)", "GA* (in GPU)", "ICP"], "range": ["#ff420e", "#579d1c", "#83caff", "#aecf00", "#004586", "#ffd320", "#7e0021", "#314004"]}, "legend": null}},
         "layer": [
           {"mark": {"type": "tick", "orient": "horizontal", "size": 117, "thickness": 10, "opacity": 1}},
           {"mark": {"type": "point", "size": 900, "filled": true, "opacity": 1}, "encoding": {"shape": {"field": "method", "type": "nominal", "scale": {"domain": ["CPD", "PointNetLK", "FGR", "Unlabelled", "RPSRNet(Ours)", "DCP-V2 (svd)", "GA* (in GPU)", "ICP"], "range": ["M0,-1L0.5,0L0,1L-0.5,0Z", "triangle-up", "triangle-left", "M-1,-1L1,-1L-1,1L1,1Z", "square", "triangle-down", "triangle-right", "M-1,-1L1,1L1,-1L-1,1Z"]}, "legend": null}}},
           {"mark": {"type": "text", "align": "left", "baseline": "middle", "dx": 69, "font": "Liberation Sans", "fontSize": 46}, "encoding": {"text": {"field": "label"}, "color": {"value": "#000000"}}}
         ]}
      ],
      "bounds": "flush",
      "spacing": 0
    }
  ],
  "spacing": 40
}
